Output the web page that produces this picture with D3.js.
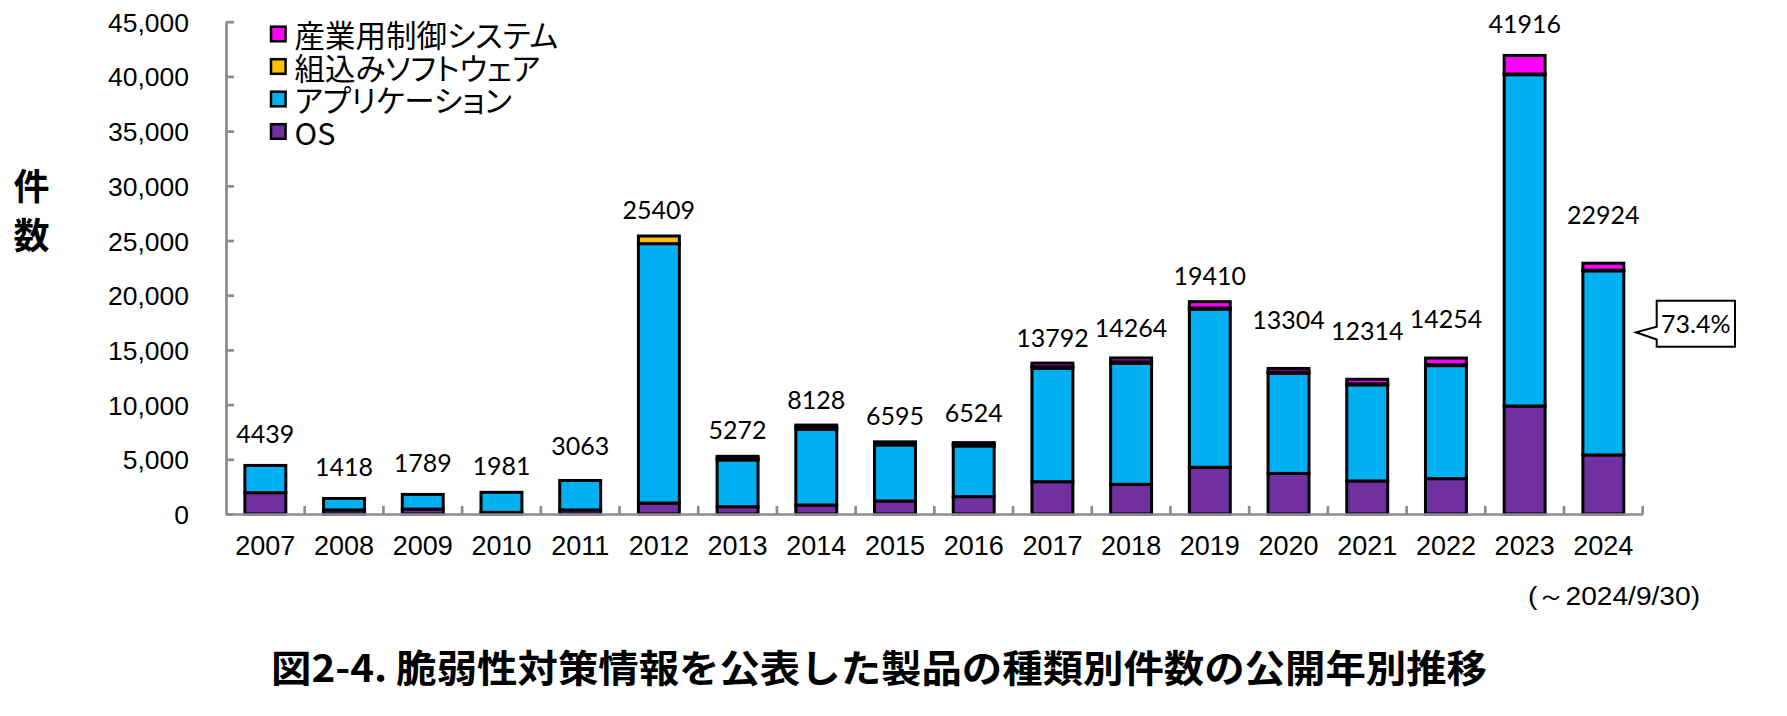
<!DOCTYPE html>
<html>
<head>
<meta charset="utf-8">
<script src="https://cdn.jsdelivr.net/npm/d3@7"></script>
<style>
  html, body { margin: 0; padding: 0; background: #fff; }
  svg { display: block; }
</style>
</head>
<body>
<svg id="chart" width="1787" height="716"></svg>
<script>
// ---------- data ----------
const years = ["2007","2008","2009","2010","2011","2012","2013","2014","2015","2016","2017","2018","2019","2020","2021","2022","2023","2024"];
const osVals       = [1950, 370, 450, 150, 370, 1000, 670, 820, 1190, 1590, 2955, 2715, 4270, 3710, 3020, 3230, 9870, 5400];
const appVals      = [2489, 1048, 1339, 1831, 2693, 23709, 4270, 6930, 5120, 4630, 10347, 11075, 14460, 9164, 8784, 10334, 30286, 16826];
const embeddedVals = [0, 0, 0, 0, 0, 700, 160, 200, 150, 150, 150, 120, 100, 100, 100, 90, 60, 60];
const industrialVals = [0, 0, 0, 0, 0, 0, 172, 178, 135, 154, 340, 354, 580, 330, 410, 600, 1700, 638];
const totals = [4439, 1418, 1789, 1981, 3063, 25409, 5272, 8128, 6595, 6524, 13792, 14264, 19410, 13304, 12314, 14254, 41916, 22924];
const yTicks = [0, 5000, 10000, 15000, 20000, 25000, 30000, 35000, 40000, 45000];
const seriesNames = ["OS", "アプリケーション", "組込みソフトウェア", "産業用制御システム"];

// ---------- layout / style (not data) ----------
const colors = { "OS": "#7030A0", "アプリケーション": "#00B0F0", "組込みソフトウェア": "#FFC000", "産業用制御システム": "#FF00FF" };
const labelRaise = [22, 22, 22, 17, 25, 17, 17, 16, 17, 21, 16, 21, 17, 39, 39, 30, 22, 39];
const plotL = 226, plotR = 1642.7, plotT = 21.7, plotB = 514;
const axisGray = "#8c8c8c";
const latin = "'Liberation Sans', Arial, sans-serif";
const cjk = "'Noto Sans CJK JP', 'Noto Sans CJK SC', sans-serif";
const calib = "Lato, 'Open Sans', sans-serif";

const svg = d3.select("#chart");

const rows = years.map((yr, i) => ({
  year: yr,
  "OS": osVals[i],
  "アプリケーション": appVals[i],
  "組込みソフトウェア": embeddedVals[i],
  "産業用制御システム": industrialVals[i],
  total: totals[i],
  raise: labelRaise[i]
}));

const x = d3.scaleBand().domain(years).range([plotL, plotR]).paddingInner(0.48).paddingOuter(0.24);
const y = d3.scaleLinear().domain([0, 45000]).range([plotB, plotT]);

const stack = d3.stack().keys(seriesNames)(rows);

// bars
const gBars = svg.append("g");
stack.forEach(layer => {
  gBars.append("g")
    .selectAll("rect")
    .data(layer.filter(d => d[1] - d[0] > 0))
    .join("rect")
    .attr("x", d => x(d.data.year))
    .attr("width", x.bandwidth())
    .attr("y", d => y(d[1]))
    .attr("height", d => y(d[0]) - y(d[1]))
    .attr("fill", colors[layer.key])
    .attr("stroke", "#000")
    .attr("stroke-width", 3);
});

// y axis
const yAxis = d3.axisLeft(y).tickValues(yTicks).tickFormat(d3.format(",")).tickSizeInner(-8).tickSizeOuter(0).tickPadding(37);
const gy = svg.append("g").attr("transform", `translate(${plotL},0)`).call(yAxis);
gy.select(".domain").attr("stroke", axisGray).attr("stroke-width", 2.7);
gy.selectAll(".tick line").attr("stroke", axisGray).attr("stroke-width", 2.7);
gy.selectAll(".tick text").attr("font-family", latin).attr("font-size", 26.5).attr("fill", "#000").attr("dy", "0.36em");

// x axis
const xAxis = d3.axisBottom(x).tickSize(0).tickSizeOuter(0).tickPadding(0);
const gx = svg.append("g").attr("transform", `translate(0,${plotB})`).call(xAxis);
gx.select(".domain").attr("stroke", axisGray).attr("stroke-width", 2.7);
gx.selectAll(".tick text").attr("font-family", latin).attr("font-size", 27).attr("fill", "#000").attr("y", 41).attr("dy", null);

// category boundary ticks
const gap = (x.step() - x.bandwidth()) / 2;
const bounds = years.slice(1).map(yr => x(yr) - gap).concat([x(years[years.length - 1]) + x.bandwidth() + gap]);
svg.append("g").selectAll("line").data(bounds).join("line")
  .attr("x1", d => d).attr("x2", d => d)
  .attr("y1", plotB).attr("y2", plotB - 8)
  .attr("stroke", axisGray).attr("stroke-width", 2.7);

// total labels
svg.append("g").selectAll("text").data(rows).join("text")
  .attr("x", d => x(d.year) + x.bandwidth() / 2)
  .attr("y", d => y(d.total) - d.raise)
  .attr("text-anchor", "middle")
  .attr("font-family", calib)
  .attr("font-size", 25)
  .attr("fill", "#000")
  .text(d => d.total);

// y-axis title
const yTitle = ["件", "数"];
svg.append("g").selectAll("text").data(yTitle).join("text")
  .attr("x", 31.5)
  .attr("y", (d, i) => 184 + i * 48.5)
  .attr("text-anchor", "middle")
  .attr("dominant-baseline", "central")
  .attr("font-family", cjk)
  .attr("font-weight", 700)
  .attr("font-size", 36)
  .text(d => d);

// legend
const legendItems = ["産業用制御システム", "組込みソフトウェア", "アプリケーション", "OS"];
const lg = svg.append("g").selectAll("g").data(legendItems).join("g")
  .attr("transform", (d, i) => `translate(271, ${34 + i * 32.5})`);
lg.append("rect").attr("x", 0).attr("y", -7.3).attr("width", 14.6).attr("height", 14.6)
  .attr("fill", d => colors[d]).attr("stroke", "#000").attr("stroke-width", 2.5);
lg.append("text").attr("x", 23.5).attr("y", 0).attr("dominant-baseline", "central")
  .attr("font-family", cjk).attr("font-size", 30.5).attr("fill", "#000")
  .style("font-feature-settings", "'palt'")
  .text(d => d);

// callout with share of applications in last year
const li = years.length - 1;
const share = d3.format(".1%")(appVals[li] / totals[li]);
const bx0 = 1656.7, bx1 = 1735, by0 = 300.7, by1 = 346.7;
svg.append("path")
  .attr("d", `M${bx0},${by0} H${bx1} V${by1} H${bx0} V339.5 L1636,332.3 L${bx0},326.7 Z`)
  .attr("fill", "#fff").attr("stroke", "#000").attr("stroke-width", 2);
svg.append("text").attr("x", (bx0 + bx1) / 2).attr("y", 333)
  .attr("text-anchor", "middle").attr("font-family", calib).attr("font-size", 25).text(share);

// date note
svg.append("text").attr("x", 1528).attr("y", 605)
  .attr("font-family", latin).attr("font-size", 26)
  .attr("textLength", 172).attr("lengthAdjust", "spacingAndGlyphs")
  .text("(～2024/9/30)");

// title
svg.append("text").attr("x", 271).attr("y", 682)
  .attr("font-family", cjk).attr("font-weight", 700).attr("font-size", 38)
  .attr("textLength", 1216).attr("lengthAdjust", "spacingAndGlyphs")
  .text("図2-4. 脆弱性対策情報を公表した製品の種類別件数の公開年別推移");
</script>
</body>
</html>
